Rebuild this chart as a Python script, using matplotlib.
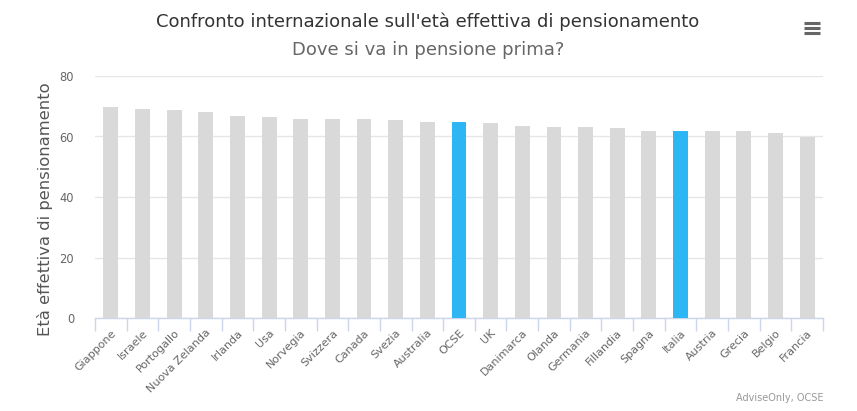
import matplotlib
matplotlib.use("Agg")
import matplotlib.pyplot as plt
from matplotlib.ticker import FixedLocator

categories = ["Giappone", "Israele", "Portogallo", "Nuova Zelanda", "Irlanda", "Usa",
              "Norvegia", "Svizzera", "Canada", "Svezia", "Australia", "OCSE", "UK",
              "Danimarca", "Olanda", "Germania", "Fillandia", "Spagna", "Italia",
              "Austria", "Grecia", "Belgio", "Francia"]
values = [69.8, 69.1, 68.8, 68.1, 66.8, 66.4, 65.8, 65.8, 65.8, 65.5, 64.8, 64.8,
          64.5, 63.5, 63.1, 63.1, 62.8, 61.8, 61.8, 61.8, 61.8, 61.2, 59.8]
highlight = ["OCSE", "Italia"]
yticks = [0, 20, 40, 60, 80]

title = "Confronto internazionale sull'età effettiva di pensionamento"
subtitle = "Dove si va in pensione prima?"
ylabel = "Età effettiva di pensionamento"
credits = "AdviseOnly, OCSE"

plt.rcParams['font.family'] = ['DejaVu Sans']
W, H = 857, 411
fig = plt.figure(figsize=(W / 100, H / 100), dpi=100)
left, right, top, bottom = 95, 823, 76, 318
ax = fig.add_axes([left / W, 1 - bottom / H, (right - left) / W, (bottom - top) / H])

colors = ["#2db6f4" if c in highlight else "#d9d9d9" for c in categories]
x = list(range(len(categories)))
ax.bar(x, values, width=0.47, color=colors, zorder=3)

ax.set_xlim(-0.5, len(categories) - 0.5)
ax.set_ylim(0, 80)
ax.set_yticks(yticks)
ax.yaxis.grid(True, color="#e6e6e6", linewidth=1, zorder=0)
ax.tick_params(axis="y", length=0, labelsize=8.3, labelcolor="#666666", pad=15)

ax.set_xticks(x)
ax.set_xticklabels(categories, rotation=45, ha="right", rotation_mode="anchor",
                   fontsize=8, color="#666666")
ax.tick_params(axis="x", which="major", length=0, pad=7)
ax.xaxis.set_minor_locator(FixedLocator([i - 0.5 for i in range(len(categories) + 1)]))
ax.tick_params(axis="x", which="minor", length=9, color="#ccd6eb", width=1)

for s in ["top", "right", "left"]:
    ax.spines[s].set_visible(False)
ax.spines["bottom"].set_color("#ccd6eb")
ax.spines["bottom"].set_linewidth(1)

fig.text(45 / W, 1 - 209 / H, ylabel, rotation=90, ha="center", va="center",
         fontsize=11.8, color="#555555")
fig.text(428 / W, 1 - 22 / H, title, ha="center", va="center", fontsize=13, color="#333333")
fig.text(428 / W, 1 - 50 / H, subtitle, ha="center", va="center", fontsize=13, color="#666666")
fig.text(823 / W, 1 - 398 / H, credits, ha="right", va="center", fontsize=7, color="#999999")

# menu icon
for yy in [23, 28, 33]:
    fig.add_artist(plt.Line2D([804 / W, 820 / W], [1 - yy / H, 1 - yy / H],
                              color="#666666", linewidth=2.2, solid_capstyle="butt"))

fig.savefig("out.png", dpi=100)
